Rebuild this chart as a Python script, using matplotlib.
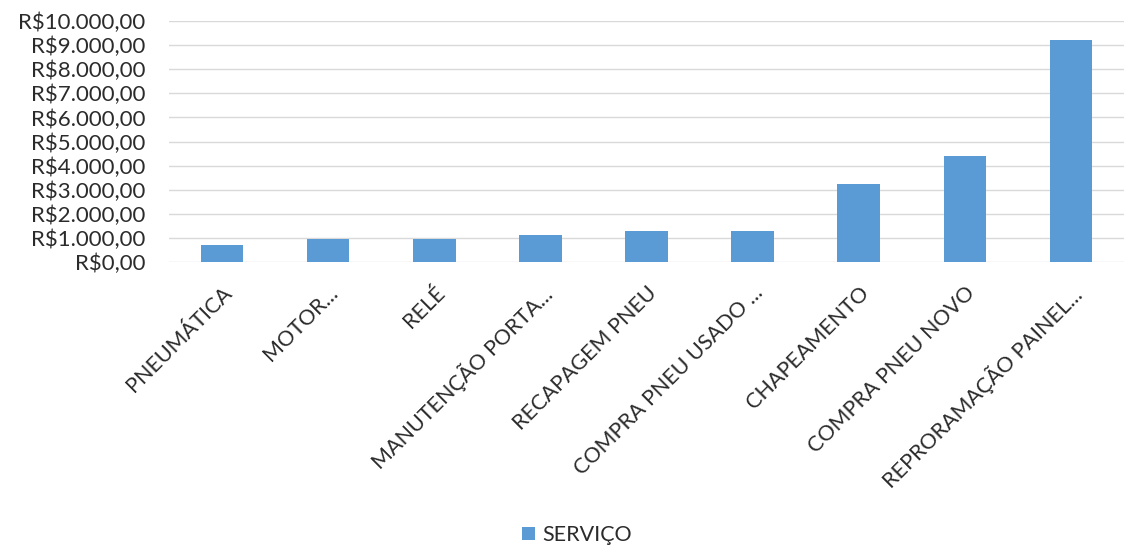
import matplotlib
matplotlib.use("Agg")
import matplotlib.pyplot as plt
from matplotlib.ticker import FuncFormatter

categories = ["PNEUMÁTICA", "MOTOR...", "RELÉ", "MANUTENÇÃO PORTA...", "RECAPAGEM PNEU",
              "COMPRA PNEU USADO ...", "CHAPEAMENTO", "COMPRA PNEU NOVO", "REPRORAMAÇÃO PAINEL..."]
values = [710, 950, 960, 1140, 1300, 1300, 3220, 4390, 9220]
series_name = "SERVIÇO"
yticks = list(range(0, 10001, 1000))

plt.rcParams['font.family'] = ['Lato', 'DejaVu Sans']
fig = plt.figure(figsize=(11.28, 5.5), dpi=100)
ax = fig.add_axes([169/1128, 1 - 262/550, (1124-169)/1128, (262-21)/550])

txt = "#2b2b2b"
x = range(len(categories))
ax.bar(x, values, width=0.4, color="#5B9BD5", label=series_name, zorder=3)
ax.set_ylim(0, 10000)
ax.set_xlim(-0.5, len(categories) - 0.5)
ax.set_yticks(yticks)
ax.yaxis.set_major_formatter(FuncFormatter(lambda v, p: "R$" + f"{v:,.2f}".replace(",", "X").replace(".", ",").replace("X", ".")))
ax.grid(axis='y', color="#d9d9d9", linewidth=1, zorder=0)
for s in ax.spines.values():
    s.set_visible(False)
ax.tick_params(axis='y', length=0, labelsize=16, colors=txt, pad=17)
ax.set_xticks(list(x))
ax.set_xticklabels(categories, rotation=45, ha='right', va='top', rotation_mode='anchor')
ax.tick_params(axis='x', length=0, labelsize=15.5, colors=txt, pad=15)

fig.legend(loc='center', bbox_to_anchor=(577/1128, 1 - 535/550), frameon=False,
           fontsize=15.5, handlelength=0.6, handleheight=0.6, handletextpad=0.3,
           labelcolor=txt)

fig.savefig("out.png", dpi=100)
